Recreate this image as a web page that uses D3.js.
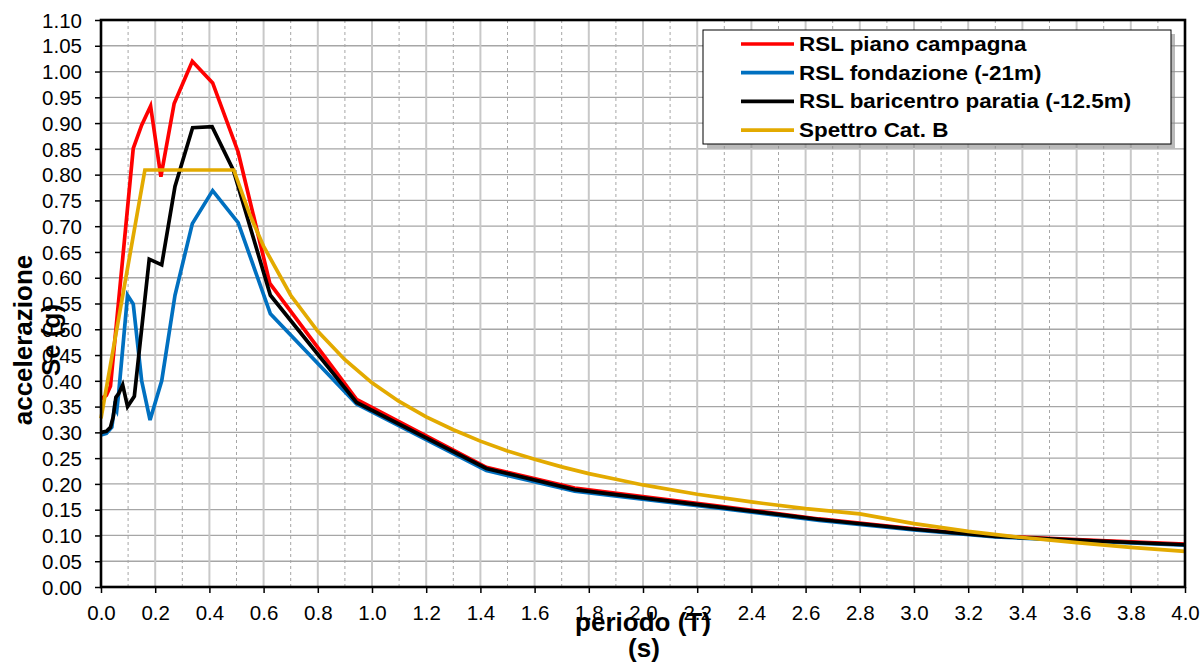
<!DOCTYPE html>
<html>
<head>
<meta charset="utf-8">
<script src="https://cdn.jsdelivr.net/npm/d3@7"></script>
<style>
  html, body { margin: 0; padding: 0; background: #fff; }
  svg { display: block; font-family: "Liberation Sans", Arial, sans-serif; }
</style>
</head>
<body>
<svg id="chart" width="1204" height="665"></svg>
<script>
// ---- Data ----
const seriesNames = ["RSL piano campagna", "RSL fondazione (-21m)", "RSL baricentro paratia (-12.5m)", "Spettro Cat. B"];
const seriesColors = ["#FF0000", "#0070C0", "#000000", "#E3AA00"];

const periodRed = [0, 0.02, 0.035, 0.119, 0.15, 0.183, 0.221, 0.27, 0.337, 0.412, 0.506, 0.623, 0.943, 1.422, 1.748, 2.28, 2.65, 3.0, 3.3, 3.6, 4.0];
const valueRed  = [0.365, 0.372, 0.39, 0.851, 0.896, 0.933, 0.796, 0.938, 1.020, 0.978, 0.844, 0.589, 0.364, 0.232, 0.192, 0.157, 0.132, 0.113, 0.099, 0.092, 0.083];

const periodBlue = [0, 0.02, 0.04, 0.05, 0.058, 0.065, 0.098, 0.119, 0.15, 0.181, 0.224, 0.273, 0.337, 0.412, 0.506, 0.625, 0.943, 1.422, 1.748, 2.28, 2.65, 3.0, 3.3, 3.6, 4.0];
const valueBlue  = [0.295, 0.298, 0.31, 0.35, 0.342, 0.375, 0.566, 0.549, 0.40, 0.324, 0.40, 0.566, 0.705, 0.769, 0.707, 0.530, 0.355, 0.226, 0.186, 0.153, 0.129, 0.111, 0.097, 0.090, 0.081];

const periodBlack = [0, 0.02, 0.035, 0.045, 0.055, 0.065, 0.08, 0.098, 0.123, 0.178, 0.224, 0.273, 0.338, 0.41, 0.488, 0.625, 0.943, 1.422, 1.748, 2.28, 2.65, 3.0, 3.3, 3.6, 4.0];
const valueBlack  = [0.300, 0.302, 0.31, 0.33, 0.368, 0.375, 0.392, 0.350, 0.370, 0.636, 0.625, 0.777, 0.891, 0.893, 0.809, 0.566, 0.358, 0.230, 0.189, 0.155, 0.131, 0.112, 0.098, 0.091, 0.082];

const periodYellow = [0, 0.162, 0.49, 0.55, 0.6, 0.7, 0.8, 0.9, 1.0, 1.1, 1.2, 1.3, 1.4, 1.5, 1.6, 1.7, 1.8, 1.9, 2.0, 2.2, 2.4, 2.6, 2.8, 3.0, 3.2, 3.4, 3.6, 3.8, 4.0];
const valueYellow  = [0.327, 0.809, 0.809, 0.721, 0.661, 0.566, 0.496, 0.441, 0.396, 0.360, 0.330, 0.305, 0.283, 0.264, 0.248, 0.233, 0.220, 0.209, 0.198, 0.180, 0.165, 0.152, 0.142, 0.123, 0.108, 0.096, 0.086, 0.077, 0.069];

const xTickValues = [0.0, 0.2, 0.4, 0.6, 0.8, 1.0, 1.2, 1.4, 1.6, 1.8, 2.0, 2.2, 2.4, 2.6, 2.8, 3.0, 3.2, 3.4, 3.6, 3.8, 4.0];
const yTickValues = [0.00, 0.05, 0.10, 0.15, 0.20, 0.25, 0.30, 0.35, 0.40, 0.45, 0.50, 0.55, 0.60, 0.65, 0.70, 0.75, 0.80, 0.85, 0.90, 0.95, 1.00, 1.05, 1.10];
const xMinorValues = [0.1, 0.3, 0.5, 0.7, 0.9, 1.1, 1.3, 1.5, 1.7, 1.9, 2.1, 2.3, 2.5, 2.7, 2.9, 3.1, 3.3, 3.5, 3.7, 3.9];

const xTitle1 = "periodo (T)", xTitle2 = "(s)";
const yTitle1 = "accelerazione", yTitle2 = "Se (g)";

// ---- Layout ----
const L = 101, R = 1185, T = 20, B = 587;
const svg = d3.select("#chart");
const x = d3.scaleLinear().domain([0, 4]).range([L, R]);
const y = d3.scaleLinear().domain([0, 1.10]).range([B, T]);

// Gridlines
const grid = svg.append("g");
grid.selectAll("line.h").data(yTickValues.slice(1, -1)).join("line")
  .attr("x1", L).attr("x2", R).attr("y1", d => y(d)).attr("y2", d => y(d))
  .attr("stroke", "#a6a6a6").attr("stroke-width", 1.3);
grid.selectAll("line.vm").data(xMinorValues).join("line")
  .attr("y1", T).attr("y2", B).attr("x1", d => x(d)).attr("x2", d => x(d))
  .attr("stroke", "#a6a6a6").attr("stroke-width", 1).attr("stroke-dasharray", "3,3");
grid.selectAll("line.v").data(xTickValues.slice(1, -1)).join("line")
  .attr("y1", T).attr("y2", B).attr("x1", d => x(d)).attr("x2", d => x(d))
  .attr("stroke", "#c8c8c8").attr("stroke-width", 2);

// Axes
const yAxis = d3.axisLeft(y).tickValues(yTickValues).tickFormat(d3.format(".2f")).tickSize(6).tickPadding(13);
const xAxis = d3.axisBottom(x).tickValues(xTickValues).tickFormat(d3.format(".1f")).tickSize(6).tickPadding(10);
const gy = svg.append("g").attr("transform", `translate(${L},0)`).call(yAxis);
const gx = svg.append("g").attr("transform", `translate(0,${B})`).call(xAxis);
[gy, gx].forEach(g => {
  g.select(".domain").remove();
  g.selectAll(".tick line").attr("stroke", "#000").attr("stroke-width", 1.5);
  g.selectAll(".tick text").attr("fill", "#000").style("font-size", "20.5px")
    .style("font-family", "'Liberation Sans', Arial, sans-serif");
});
gy.selectAll(".tick text").attr("dy", "0.35em");
gx.selectAll(".tick text").attr("dy", "0.85em");

// Series lines
const line = d3.line().x(d => x(d[0])).y(d => y(d[1]));
const series = [
  d3.zip(periodRed, valueRed),
  d3.zip(periodBlue, valueBlue),
  d3.zip(periodBlack, valueBlack),
  d3.zip(periodYellow, valueYellow)
];
[0, 1, 2, 3].forEach(i => {
  svg.append("path").datum(series[i]).attr("d", line)
    .attr("fill", "none").attr("stroke", seriesColors[i]).attr("stroke-width", 3.7)
    .attr("stroke-linejoin", "miter").attr("stroke-linecap", "butt");
});

// Plot border
svg.append("rect").attr("x", L).attr("y", T).attr("width", R - L).attr("height", B - T)
  .attr("fill", "none").attr("stroke", "#000").attr("stroke-width", 2.6);

// Legend
const lg = svg.append("g");
lg.append("rect").attr("x", 707).attr("y", 34).attr("width", 468).attr("height", 114).attr("fill", "#8c8c8c").attr("opacity", 0.6);
lg.append("rect").attr("x", 703).attr("y", 30).attr("width", 468).attr("height", 114).attr("fill", "#fff").attr("stroke", "#000").attr("stroke-width", 1);
seriesNames.forEach((name, i) => {
  const cy = 44 + i * 28.7;
  lg.append("line").attr("x1", 741).attr("x2", 794).attr("y1", cy).attr("y2", cy)
    .attr("stroke", seriesColors[i]).attr("stroke-width", 3.7);
  lg.append("text").attr("transform", `translate(799,${cy + 7}) scale(1.15,1)`)
    .attr("font-size", "19.5px").attr("font-weight", "bold").attr("fill", "#000").text(name);
});

// Axis titles
svg.append("text").attr("x", 643).attr("y", 631).attr("text-anchor", "middle")
  .attr("font-size", "26px").attr("font-weight", "bold").text(xTitle1);
svg.append("text").attr("x", 644).attr("y", 657).attr("text-anchor", "middle")
  .attr("font-size", "26px").attr("font-weight", "bold").text(xTitle2);
svg.append("text").attr("transform", "translate(32,340) rotate(-90)").attr("text-anchor", "middle")
  .attr("font-size", "26px").attr("font-weight", "bold").text(yTitle1);
svg.append("text").attr("transform", "translate(60,340) rotate(-90)").attr("text-anchor", "middle")
  .attr("font-size", "26px").attr("font-weight", "bold").text(yTitle2);
</script>
</body>
</html>
